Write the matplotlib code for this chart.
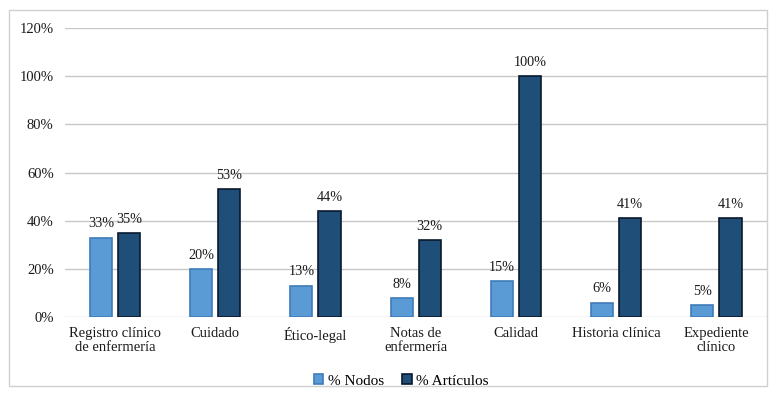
import numpy as np
import matplotlib.pyplot as plt
from matplotlib.patches import Rectangle

plt.rcParams['font.family'] = ['Liberation Serif', 'DejaVu Serif']

categorias = ['Registro clínico\nde enfermería', 'Cuidado', 'Ético-legal',
              'Notas de\nenfermería', 'Calidad', 'Historia clínica',
              'Expediente\nclínico']
nodos = [33, 20, 13, 8, 15, 6, 5]
articulos = [35, 53, 44, 32, 100, 41, 41]

fig = plt.figure(figsize=(7.72, 3.98), dpi=100)
ax = fig.add_axes([0.084, 0.2035, 0.909, 0.726])

x = np.arange(len(categorias))
w = 0.22
b1 = ax.bar(x - 0.14, nodos, w, color='#5B9BD5', edgecolor='#3F7CBA',
            linewidth=1.2, label='% Nodos', zorder=3)
b2 = ax.bar(x + 0.14, articulos, w, color='#1F4E79', edgecolor='#0A1A2E',
            linewidth=1.2, label='% Artículos', zorder=3)

for bars, vals in ((b1, nodos), (b2, articulos)):
    for r, v in zip(bars, vals):
        ax.text(r.get_x() + r.get_width() / 2, v + 3, f'{v}%',
                ha='center', va='bottom', fontsize=10.3, color='#1a1a1a')

ax.set_xlim(-0.5, len(categorias) - 0.5)
ax.set_ylim(0, 120)
ax.set_yticks(range(0, 121, 20))
ax.set_yticklabels([f'{t}%' for t in range(0, 121, 20)])
ax.set_xticks(x)
ax.set_xticklabels(categorias, linespacing=1.1)
ax.tick_params(axis='both', length=0, labelsize=10.5, colors='#1a1a1a')
ax.tick_params(axis='y', pad=8)
ax.tick_params(axis='x', pad=7)
ax.yaxis.grid(True, color='#C8C8C8', linewidth=1, zorder=0)
for s in ax.spines.values():
    s.set_visible(False)

fig.patches.append(Rectangle((9 / 772, 1 - 386 / 398), 758 / 772, 376 / 398,
                             transform=fig.transFigure, fill=False,
                             edgecolor='#D0D0D0', linewidth=1))

fig.legend(handles=[b1, b2], loc='center', bbox_to_anchor=(0.52, 0.043),
           ncol=2, frameon=False, fontsize=11, handlelength=0.6,
           handleheight=0.6, handletextpad=0.3, columnspacing=1.2)

fig.savefig('out.png', dpi=100)
